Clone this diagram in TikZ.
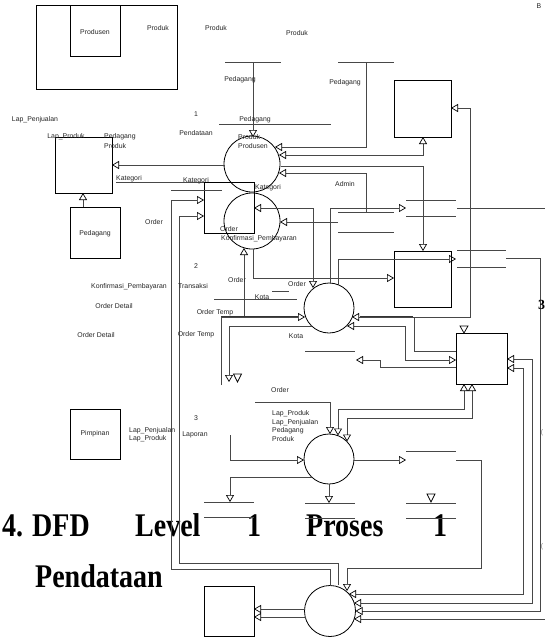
\documentclass[tikz,border=0pt]{standalone}
\usepackage{fontspec}
\setmainfont{Liberation Sans}
\newfontfamily\titlefont{Liberation Serif}
\usetikzlibrary{arrows.meta}
\begin{document}
\begin{tikzpicture}[x=1pt,y=-1pt,
  ln/.style={draw=black!72,line width=0.8pt},
  thk/.style={draw=black!80,line width=1.4pt},
  ta/.style={-{Triangle[open,length=7pt,width=8pt,black,line width=0.7pt]}},
  tb/.style={{Triangle[open,length=7pt,width=8pt,black,line width=0.7pt]}-{Triangle[open,length=7pt,width=8pt,black,line width=0.7pt]}},
  lbl/.style={font=\fontsize{6.9}{7.5}\selectfont,text=black!85,inner sep=0pt},
  bx/.style={draw=black,line width=0.9pt,inner sep=0pt},
  proc/.style={draw=black,circle,line width=0.8pt,inner sep=0pt},
  ttl/.style={font=\titlefont\bfseries\fontsize{28}{30}\selectfont,inner sep=0pt,anchor=base west},
  tri/.style={draw=black,fill=white,line width=0.7pt}]
\useasboundingbox[fill=white] (0,0) rectangle (545,637);

% ---------- title text ----------
\node[ttl] (t4) at (2,536) {\scalebox{1}[1.18]{4.}};
\node[ttl] (tdfd) at (32,536) {\scalebox{1}[1.18]{DFD}};
\node[ttl] (tlev) at (135,536) {\scalebox{1}[1.18]{Level}};
\node[ttl] (tone) at (247,536) {\scalebox{1}[1.18]{1}};
\node[ttl] (tpro) at (306,536) {\scalebox{1}[1.18]{Proses}};
\node[ttl] (ttwo) at (433,536) {\scalebox{1}[1.18]{1}};
\node[ttl] (tpen) at (35,587) {\scalebox{1}[1.18]{Pendataan}};

% ---------- boxes ----------
\node[bx,minimum width=141pt,minimum height=84pt] (big) at (106.5,47) {};
\node[bx,minimum width=50pt,minimum height=51pt] (prod) at (95,30.5) {};
\node[bx,minimum width=57pt,minimum height=56pt] (lbox) at (83.5,165) {};
\node[bx,minimum width=50pt,minimum height=51pt] (pedb) at (95,232.5) {};
\node[bx,minimum width=50pt,minimum height=50pt] (pimp) at (95,434) {};
\node[bx,minimum width=50pt,minimum height=51pt] (kbox) at (229,207.5) {};
\node[bx,minimum width=57pt,minimum height=57pt] (trbox) at (422.5,108.5) {};
\node[bx,minimum width=57pt,minimum height=56pt] (mbox) at (422.5,279) {};
\node[bx,minimum width=51pt,minimum height=51pt] (rbox) at (481.5,358.5) {};
\node[bx,minimum width=50pt,minimum height=50pt] (blbox) at (229,611) {};

% ---------- processes ----------
\node[proc,minimum size=56pt] (c1) at (252,164) {};
\node[proc,minimum size=56pt] (c2) at (252,221) {};
\node[proc,minimum size=50pt] (c3) at (329,308) {};
\node[proc,minimum size=50pt] (c4) at (329,459) {};
\node[proc,minimum size=51pt] (c5) at (330,611) {};

% ---------- store lines ----------
\draw[ln] (225,62) -- (281,62);
\draw[ln] (338,62) -- (394,62);
\draw[ln] (219,124) -- (331,124);
\draw[ln] (171,190) -- (222,190);
\draw[ln] (116,182) -- (204,182);
\draw[ln] (338,212) -- (394,212);
\draw[ln] (338,232) -- (394,232);
\draw[ln] (406,200) -- (456,200);
\draw[ln] (406,216) -- (456,216);
\draw[ln] (457,208) -- (545,208);
\draw[ln] (457,250) -- (506,250);
\draw[ln] (457,267) -- (506,267);
\draw[ln] (272,291) -- (289,291);
\draw[ln] (214,299) -- (297,299);
\draw[ln] (305,351) -- (355,351);
\draw[ln] (406,451) -- (456,451);
\draw[ln] (204,502) -- (254,502);
\draw[ln] (204,517) -- (254,517);
\draw[ln] (305,503) -- (355,503);
\draw[ln] (305,518) -- (355,518);
\draw[ln] (406,503) -- (456,503);
\draw[ln] (406,518) -- (456,518);

% ---------- connectors ----------
\draw[ln,ta] (253,62) -- (253,137);
\draw[ln,ta] (366,62) -- (366,147) -- (275,147);
\draw[ln,tb] (279,155) -- (423,155) -- (423,137);
\draw[ln,ta] (281,166) -- (423,166) -- (423,251);
\draw[ln,ta] (366,212) -- (366,173) -- (279,173);
\draw[ln,ta] (225,165) -- (112,165);
\draw[ln,ta] (83,207) -- (83,193);
\draw[ln,ta] (330,586) -- (330,569) -- (171,569) -- (171,200) -- (204,200);
\draw[ln,ta] (338,585) -- (338,563) -- (179,563) -- (179,216) -- (204,216);
\draw[ln,ta] (338,222) -- (280,222);
\draw[ln,tb] (254,208) -- (313,208) -- (313,288);
\draw[ln,ta] (330,283) -- (330,208) -- (406,208);
\draw[ln,ta] (338,285) -- (338,259) -- (456,259);
\draw[ln,ta] (253,249) -- (253,278) -- (394,278);
\draw[ln,ta] (244,317) -- (244,248);
\draw[thk] (221,317) -- (298,317);
\draw[ln,ta] (221,385) -- (221,317) -- (305,317);
\draw[ln,ta] (312,326) -- (229,326) -- (229,382);
\draw[tri] (233.5,374) -- (241.5,374) -- (237.5,382) -- cycle;
\draw[thk] (360,317) -- (413,317);
\draw[ln,tb] (352,317) -- (470,317) -- (470,108) -- (451,108);
\draw[ln,tb] (347,326) -- (405,326) -- (405,360) -- (456,360);
\draw[ln] (414,317) -- (414,351) -- (456,351);
\draw[ln,ta] (456,367) -- (380,367) -- (380,360) -- (356,360);
\draw[tri] (460,326) -- (468,326) -- (464,333) -- cycle;
\draw[ln,tb] (507,359) -- (532,359) -- (532,603) -- (354,603);
\draw[ln,tb] (507,368) -- (523,368) -- (523,594) -- (349,594);
\draw[ln,ta] (506,258) -- (540,258) -- (540,611) -- (355.5,611);
\draw[ln,ta] (545,619) -- (354,619);
\draw[ln,tb] (464,384) -- (464,409) -- (338,409) -- (338,435.5);
\draw[ln,tb] (472,384) -- (472,418) -- (347,418) -- (347,441.5);
\draw[ln,ta] (255,402) -- (330,402) -- (330,434);
\draw[ln,ta] (230,435) -- (230,460) -- (304,460);
\draw[ln,ta] (311.5,477) -- (230,477) -- (230,502);
\draw[ln,ta] (329,484) -- (329,503);
\draw[ln,ta] (354,460) -- (406,460);
\draw[ln,ta] (456,460) -- (481,460) -- (481,568) -- (347,568) -- (347,591);
\draw[tri] (427,494) -- (435,494) -- (431,502) -- cycle;
\draw[ln,ta] (305,609) -- (254,609);
\draw[ln,ta] (306,617) -- (254,617);

% ---------- labels ----------
\node[lbl] (l1) at (95,32) {Produsen};
\node[lbl] (l2) at (158,28) {Produk};
\node[lbl] (l3) at (216,28) {Produk};
\node[lbl] (l4) at (297,33) {Produk};
\node[lbl] (l5) at (240,80) {Pedagang};
\node[lbl] (l6) at (345,83) {Pedagang};
\node[lbl] (l7) at (196,114) {1};
\node[lbl] (l8) at (255,120) {Pedagang};
\node[lbl] (l9) at (35,120) {Lap\_Penjualan};
\node[lbl] (l10) at (196,133) {Pendataan};
\node[lbl] (l11) at (66,137) {Lap\_Produk};
\node[lbl,anchor=west] (l12) at (104,137) {Pedagang};
\node[lbl,anchor=west] (l13) at (104,146) {Produk};
\node[lbl,anchor=west] (l14) at (238,137) {Produk};
\node[lbl,anchor=west] (l15) at (238,146) {Produsen};
\node[lbl] (l16) at (129,179) {Kategori};
\node[lbl] (l17) at (196,181) {Kategori};
\node[lbl] (l18) at (268,188) {Kategori};
\node[lbl] (l19) at (345,184) {Admin};
\node[lbl] (l20) at (154,222) {Order};
\node[lbl] (l21) at (229,229) {Order};
\node[lbl,anchor=west] (l22) at (221,239) {Konfirmasi\_Pembayaran};
\node[lbl] (lped) at (95,234) {Pedagang};
\node[lbl] (l23) at (196,266) {2};
\node[lbl] (l24) at (237,280) {Order};
\node[lbl] (l25) at (297,284) {Order};
\node[lbl] (l26) at (129,287) {Konfirmasi\_Pembayaran};
\node[lbl] (l27) at (193,286) {Transaksi};
\node[lbl] (l28) at (262,297) {Kota};
\node[lbl] (l29) at (114,306) {Order Detail};
\node[lbl] (l30) at (215,313) {Order Temp};
\node[lbl] (l31) at (96,335) {Order Detail};
\node[lbl] (l32) at (196,335) {Order Temp};
\node[lbl] (l33) at (296,336) {Kota};
\node[lbl] (l34) at (280,390) {Order};
\node[lbl] (l35) at (196,418) {3};
\node[lbl,anchor=west] (l36) at (272,414) {Lap\_Produk};
\node[lbl,anchor=west] (l37) at (272,423) {Lap\_Penjualan};
\node[lbl,anchor=west] (l38) at (272,431) {Pedagang};
\node[lbl,anchor=west] (l39) at (272,439) {Produk};
\node[lbl,anchor=west] (l40) at (129,431) {Lap\_Penjualan};
\node[lbl,anchor=west] (l41) at (129,439) {Lap\_Produk};
\node[lbl] (l42) at (195,435) {Laporan};
\node[lbl] (l43) at (95,434) {Pimpinan};
\node[lbl] (l44) at (539,6) {B};
\node[lbl,text=black!50] (l45) at (542,433) {(};
\node[lbl,text=black!50] (l46) at (542,547) {(};
\node[inner sep=0pt,font=\titlefont\bfseries\fontsize{14}{14}\selectfont,anchor=west] (l47) at (538,305) {3};
\end{tikzpicture}
\end{document}
